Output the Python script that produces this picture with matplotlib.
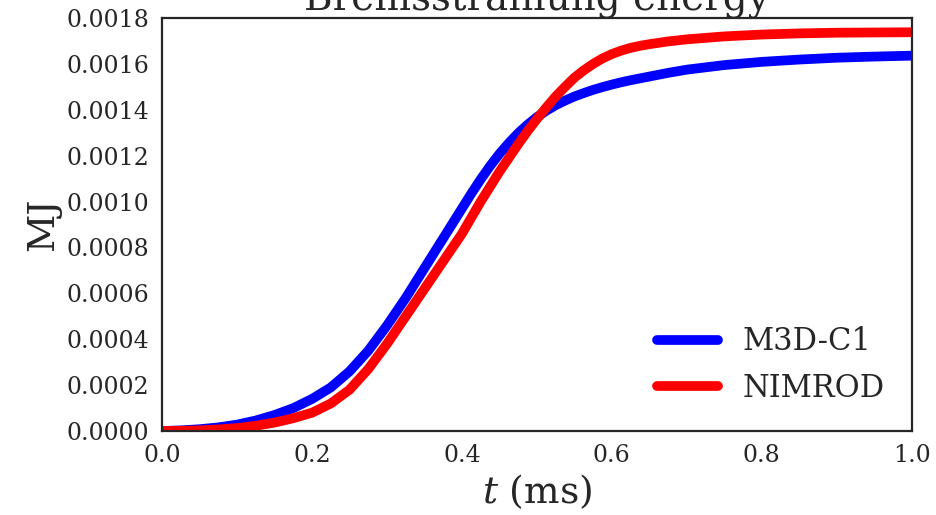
import numpy as np
import matplotlib
matplotlib.use("Agg")
import matplotlib.pyplot as plt

# time (ms)
t_ms = [0.0, 0.025, 0.05, 0.075, 0.1, 0.125, 0.15, 0.175, 0.2, 0.225, 0.25,
        0.275, 0.3, 0.325, 0.35, 0.375, 0.4, 0.4125, 0.425, 0.4375, 0.45,
        0.4625, 0.475, 0.4875, 0.5, 0.5125, 0.525, 0.5375, 0.55, 0.5625,
        0.575, 0.5875, 0.6, 0.6125, 0.625, 0.6375, 0.65, 0.675, 0.7, 0.75,
        0.8, 0.85, 0.9, 0.95, 1.0]

# Bremsstrahlung energy (MJ)
m3dc1 = [0.0, 0.000003, 0.000008, 0.000016, 0.000028, 0.000046, 0.00007, 0.0001,
         0.00014, 0.00019, 0.00026, 0.00035, 0.00046, 0.00058, 0.00071, 0.00084,
         0.00097, 0.001035, 0.001097, 0.001155, 0.001208, 0.001255, 0.001298, 0.001335,
         0.001368, 0.001396, 0.00142, 0.00144, 0.001458, 0.001473, 0.001487,
         0.001499, 0.00151, 0.00152, 0.001529, 0.001537, 0.001545, 0.001561, 0.001575,
         0.001595, 0.001609, 0.001619, 0.001627, 0.001632, 0.001636]
nimrod = [0.0, 0.000001, 0.000003, 0.000007, 0.000013, 0.000023, 0.000037, 0.000056,
          0.00008, 0.00012, 0.00018, 0.00027, 0.00038, 0.0005, 0.00062, 0.00074,
          0.00086, 0.00093, 0.001, 0.001065, 0.00113, 0.00119, 0.00125, 0.001307,
          0.00136, 0.00141, 0.001458, 0.0015, 0.00154, 0.001572, 0.0016,
          0.001624, 0.001643, 0.001658, 0.00167, 0.001679, 0.001686, 0.001698, 0.001707,
          0.00172, 0.001728, 0.001733, 0.001736, 0.001737, 0.001738]

plt.rcParams['font.family'] = ['DejaVu Serif']
plt.rcParams['mathtext.fontset'] = 'dejavuserif'
plt.rcParams['text.color'] = '#262626'
plt.rcParams['axes.labelcolor'] = '#262626'
plt.rcParams['xtick.color'] = '#262626'
plt.rcParams['ytick.color'] = '#262626'

fig, ax = plt.subplots(figsize=(9.37, 5.15), dpi=100)
fig.subplots_adjust(left=0.173, right=0.973, top=0.965, bottom=0.163)

ax.plot(t_ms, m3dc1, color='blue', lw=7, solid_capstyle='round',
        solid_joinstyle='round', label='M3D-C1')
ax.plot(t_ms, nimrod, color='red', lw=7, solid_capstyle='round',
        solid_joinstyle='round', label='NIMROD')

ax.set_xlim(0, 1)
ax.set_ylim(0, 0.0018)
ax.set_xticks(np.arange(0, 1.01, 0.2))
ax.set_yticks(np.arange(0, 0.00181, 0.0002))
ax.yaxis.set_major_formatter(matplotlib.ticker.FormatStrFormatter('%.4f'))
ax.tick_params(length=0, labelsize=17, pad=9)
for s in ax.spines.values():
    s.set_color('#262626')
    s.set_linewidth(1.6)

ax.set_xlabel(r'$t$ (ms)', fontsize=27)
ax.set_ylabel('MJ', fontsize=27)
ax.set_title('Bremsstrahlung energy', fontsize=28, pad=4)
ax.legend(loc='lower right', frameon=False, fontsize=22)

fig.savefig('out.png', dpi=100)
